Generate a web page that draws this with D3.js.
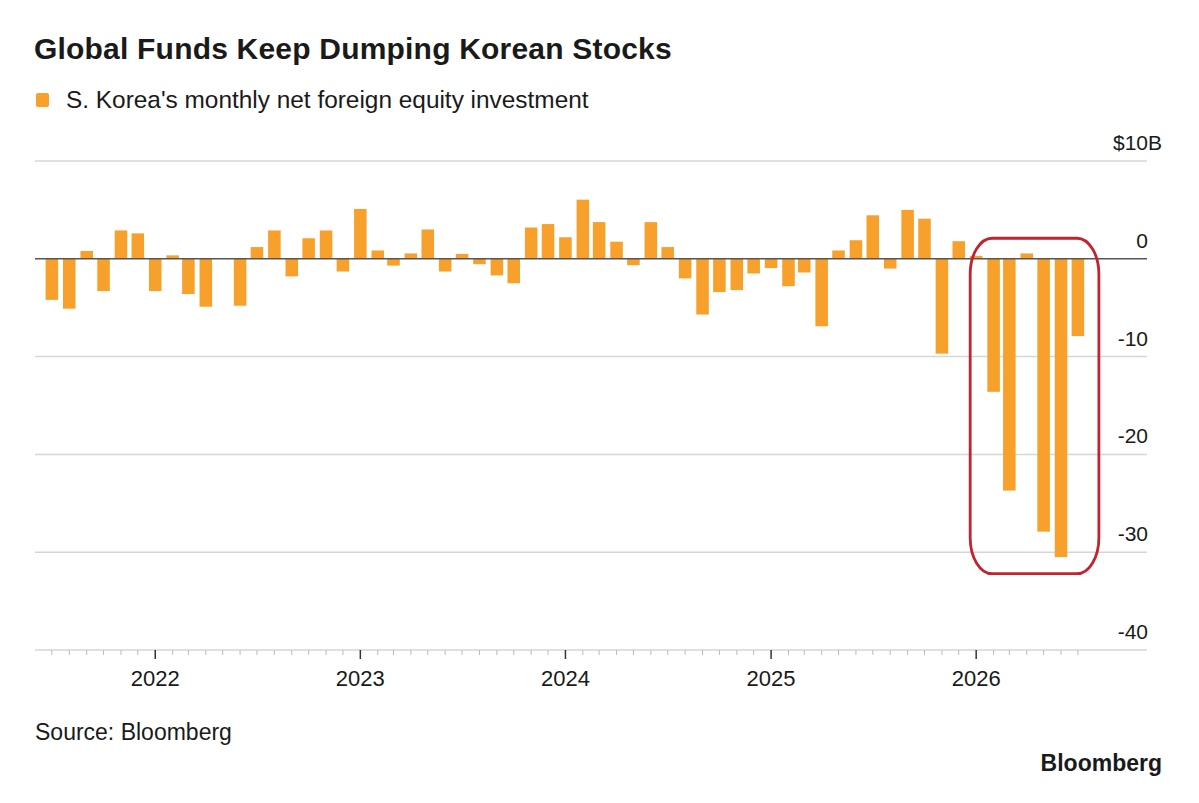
<!DOCTYPE html>
<html>
<head>
<meta charset="utf-8">
<script src="https://cdn.jsdelivr.net/npm/d3@7"></script>
<style>
    body { margin: 0; background: #fff; }
    text { font-family: "Liberation Sans", Arial, Helvetica, sans-serif; fill: #1a1a1a; }
</style>
</head>
<body>
<div id="chart"></div>
<script>
// first month of the series, then one value per month ($B)
const startMonth = "2021-07";
const values = [
    -4.2, -5.1, 0.8, -3.3, 2.9, 2.6,
    -3.3, 0.35, -3.6, -4.9, 0, -4.8, 1.2, 2.9, -1.8, 2.1, 2.9, -1.3,
    5.1, 0.85, -0.7, 0.55, 3.0, -1.3, 0.5, -0.55, -1.7, -2.5, 3.2, 3.55,
    2.2, 6.05, 3.75, 1.75, -0.65, 3.75, 1.2, -2.0, -5.7, -3.4, -3.2, -1.5,
    -0.95, -2.8, -1.4, -6.9, 0.85, 1.9, 4.45, -1.0, 5.0, 4.1, -9.7, 1.8,
    0.3, -13.6, -23.7, 0.55, -27.9, -30.5, -7.9
];
const yTicks = [10, 0, -10, -20, -30, -40];
const yearTicks = ["2022", "2023", "2024", "2025", "2026"];
// months circled in red
const highlight = ["2026-01", "2026-07"];

const parseMonth = d3.timeParse("%Y-%m");
const start = parseMonth(startMonth);
const data = values.map(function (v, i) {
    return {date: d3.timeMonth.offset(start, i), value: v};
});

const W = 1199, H = 803;
const svg = d3.select("#chart").append("svg")
    .attr("width", W)
    .attr("height", H);

const x = d3.scaleTime()
    .domain([parseMonth("2021-06"), parseMonth("2026-11")])
    .range([35, 1147]);

const y = d3.scaleLinear()
    .domain([-40, 10])
    .range([650, 161]);

const monthW = x(parseMonth("2022-02")) - x(parseMonth("2022-01"));
const barW = monthW * 0.72;

// title + legend
svg.append("text")
    .attr("x", 34)
    .attr("y", 59)
    .attr("font-size", 30)
    .attr("font-weight", "bold")
    .attr("letter-spacing", 0.2)
    .text("Global Funds Keep Dumping Korean Stocks");

svg.append("rect")
    .attr("x", 36)
    .attr("y", 93)
    .attr("width", 13)
    .attr("height", 14)
    .attr("rx", 2)
    .attr("fill", "#f7a12c");

svg.append("text")
    .attr("x", 66)
    .attr("y", 108)
    .attr("font-size", 24.4)
    .attr("fill", "#222")
    .text("S. Korea's monthly net foreign equity investment");

// gridlines
svg.selectAll(".grid")
    .data(yTicks.filter(function (d) { return d !== 0; }))
    .enter().append("line")
    .attr("class", "grid")
    .attr("x1", 35)
    .attr("x2", 1147)
    .attr("y1", function (d) { return y(d); })
    .attr("y2", function (d) { return y(d); })
    .attr("stroke", "#d6d6d6")
    .attr("stroke-width", 1.5);

// "$10B": the unit hangs past the right edge
svg.selectAll(".ylab")
    .data(yTicks)
    .enter().append("text")
    .attr("class", "ylab")
    .attr("x", function (d) { return d === 10 ? 1162 : 1148; })
    .attr("y", function (d) { return y(d) - 11; })
    .attr("text-anchor", "end")
    .attr("font-size", 21)
    .text(function (d) { return d === 10 ? "$10B" : d; });

// bars
svg.selectAll(".bar")
    .data(data)
    .enter().append("rect")
    .attr("class", "bar")
    .attr("x", function (d) { return x(d.date) - barW / 2; })
    .attr("width", barW)
    .attr("y", function (d) { return y(Math.max(0, d.value)); })
    .attr("height", function (d) { return Math.abs(y(d.value) - y(0)); })
    .attr("fill", "#f7a12c");

// zero line
svg.append("line")
    .attr("x1", 35)
    .attr("x2", 1147)
    .attr("y1", y(0))
    .attr("y2", y(0))
    .attr("stroke", "#555")
    .attr("stroke-width", 1.6);

// x axis ticks
const months = d3.timeMonth.range(start, d3.timeMonth.offset(start, values.length));
svg.selectAll(".mtick")
    .data(months.filter(function (d) { return d.getMonth() !== 0; }))
    .enter().append("line")
    .attr("class", "mtick")
    .attr("x1", function (d) { return x(d); })
    .attr("x2", function (d) { return x(d); })
    .attr("y1", y(-40))
    .attr("y2", y(-40) + 5)
    .attr("stroke", "#bbb")
    .attr("stroke-width", 1);

const years = yearTicks.map(function (s) { return d3.timeParse("%Y")(s); });
svg.selectAll(".ytick")
    .data(years)
    .enter().append("line")
    .attr("class", "ytick")
    .attr("x1", function (d) { return x(d); })
    .attr("x2", function (d) { return x(d); })
    .attr("y1", y(-40))
    .attr("y2", y(-40) + 9)
    .attr("stroke", "#333")
    .attr("stroke-width", 1.5);

svg.selectAll(".xlab")
    .data(years)
    .enter().append("text")
    .attr("class", "xlab")
    .attr("x", function (d) { return x(d); })
    .attr("y", 686)
    .attr("text-anchor", "middle")
    .attr("font-size", 22)
    .text(function (d) { return d3.timeFormat("%Y")(d); });

// red box round the last months
const h0 = parseMonth(highlight[0]), h1 = parseMonth(highlight[1]);
const lo = d3.min(data.filter(function (d) { return d.date >= h0 && d.date <= h1; }), function (d) { return d.value; });
svg.append("rect")
    .attr("x", x(h0) - 6)
    .attr("y", y(2.1))
    .attr("width", x(h1) + 21 - (x(h0) - 6))
    .attr("height", y(lo - 1.7) - y(2.1))
    .attr("rx", 22)
    .attr("ry", 36)
    .attr("fill", "none")
    .attr("stroke", "#c3232e")
    .attr("stroke-width", 2.8);

// footer
svg.append("text")
    .attr("x", 35)
    .attr("y", 740)
    .attr("font-size", 23)
    .attr("fill", "#222")
    .text("Source: Bloomberg");

svg.append("text")
    .attr("x", 1162)
    .attr("y", 771)
    .attr("text-anchor", "end")
    .attr("font-size", 23)
    .attr("font-weight", "bold")
    .text("Bloomberg");
</script>
</body>
</html>
